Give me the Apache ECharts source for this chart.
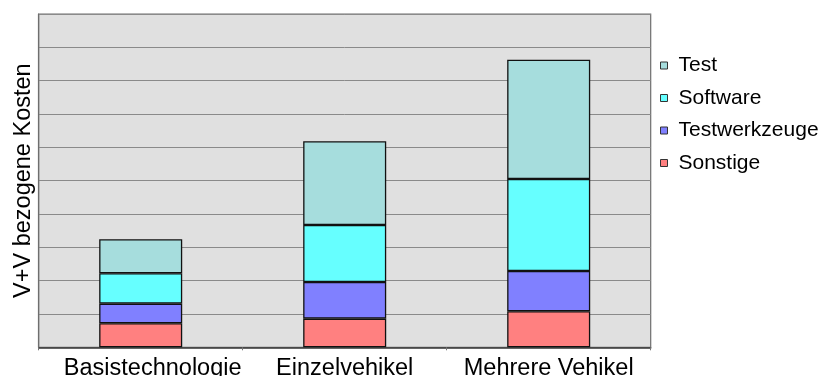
<!DOCTYPE html>
<html>
<head>
<meta charset="utf-8">
<script src="https://cdn.jsdelivr.net/npm/echarts@6/dist/echarts.min.js"></script>
<style>
  html, body { margin: 0; padding: 0; background: #ffffff; }
  #chart { width: 820px; height: 376px; }
</style>
</head>
<body>
<div id="chart"></div>
<script>
// Kostenanteile je Entwicklungsansatz (gestapelt, relative Einheiten)
const categories = ['Basistechnologie', 'Einzelvehikel', 'Mehrere Vehikel'];
const sonstige = [0.72, 0.86, 1.08];
const testwerkzeuge = [0.59, 1.10, 1.21];
const software = [0.91, 1.71, 2.76];
const test = [1.02, 2.51, 3.58];
const legendOrder = ['Test', 'Software', 'Testwerkzeuge', 'Sonstige'];

const FONT = '"Liberation Sans", Arial, sans-serif';

function stackSeries(name, values, color) {
  return {
    name: name,
    type: 'bar',
    stack: 'kosten',
    barWidth: '40.7%',
    data: values,
    itemStyle: { color: color, borderColor: '#111111', borderWidth: 1.3 },
    emphasis: { disabled: true }
  };
}

const chart = echarts.init(document.getElementById('chart'), null, { renderer: 'canvas' });
chart.setOption({
  animation: false,
  backgroundColor: '#ffffff',
  textStyle: { fontFamily: FONT },
  grid: {
    left: 38.7, right: 169.3, top: 14, bottom: 28.7,
    containLabel: false, outerBoundsMode: 'none',
    show: true, backgroundColor: '#e0e0e0', borderColor: '#6e6e6e', borderWidth: 1.2
  },
  legend: {
    orient: 'vertical',
    left: 655, top: 50,
    itemWidth: 7, itemHeight: 7,
    itemGap: 11.5,
    icon: 'rect',
    data: legendOrder,
    itemStyle: { borderColor: '#333333', borderWidth: 1 },
    textStyle: { fontFamily: FONT, fontSize: 21, color: '#000000', lineHeight: 20, padding: [0, 0, 0, 6] }
  },
  xAxis: {
    type: 'category',
    data: categories,
    axisLine: { lineStyle: { color: '#333333', width: 1.5 } },
    axisTick: { show: true, length: 3, lineStyle: { color: '#777777' } },
    axisLabel: {
      interval: 0, fontFamily: FONT, fontSize: 23.5, color: '#000000', margin: 9,
      // the first label sits a little to the right of its bar
      formatter: (v, i) => (i === 0 ? '{first|' + v + '}' : v),
      rich: { first: { fontFamily: FONT, fontSize: 23.5, color: '#000000', padding: [0, 0, 0, 24] } }
    }
  },
  yAxis: {
    type: 'value',
    min: 0, max: 10, interval: 1,
    name: 'V+V bezogene Kosten',
    nameLocation: 'middle',
    nameGap: 3,
    nameTextStyle: { fontFamily: FONT, fontSize: 23.5, color: '#000000' },
    axisLine: { show: true, lineStyle: { color: '#6e6e6e', width: 1.2 } },
    axisTick: { show: false },
    axisLabel: { show: false },
    splitLine: { lineStyle: { color: '#8a8a8a', width: 1 } }
  },
  series: [
    stackSeries('Sonstige', sonstige, '#ff8080'),
    stackSeries('Testwerkzeuge', testwerkzeuge, '#8080ff'),
    stackSeries('Software', software, '#66ffff'),
    stackSeries('Test', test, '#a6dddd')
  ]
});
</script>
</body>
</html>
